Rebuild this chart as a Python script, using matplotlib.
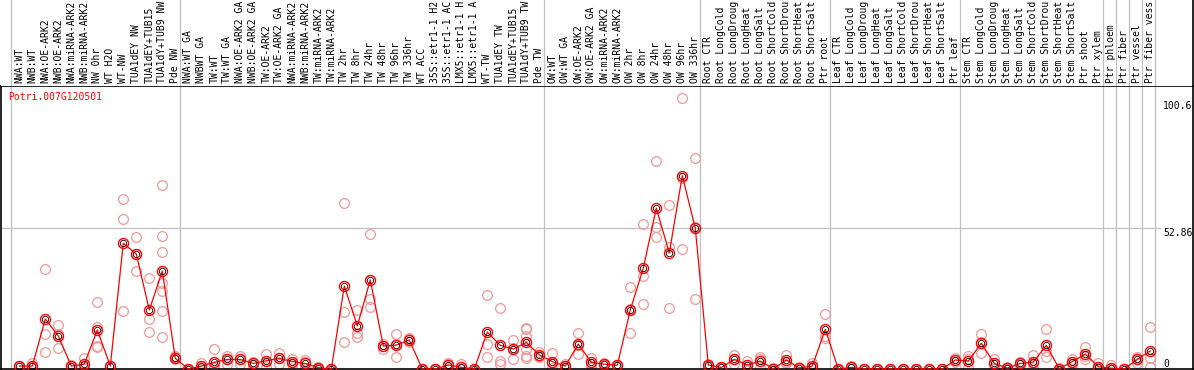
import numpy as np
import matplotlib
matplotlib.use('Agg')
import matplotlib.pyplot as plt
import matplotlib.transforms as mtransforms

gene = 'Potri.007G120501'

samples = [
    'NWA:WT', 'NWB:WT', 'NWA:OE-ARK2', 'NWB:OE-ARK2', 'NWA:miRNA-ARK2', 'NWB:miRNA-ARK2',
    'NW 0hr', 'WT H2O', 'WT-NW', 'TUA1dEY NW', 'TUA1dEY+TUB15 NW', 'TUA1dY+TUB9 NW', 'Pde NW',
    'NWA:WT GA', 'NWBWT GA', 'TW:WT', 'TW:WT GA', 'NWA:OE-ARK2 GA', 'NWB:OE-ARK2 GA',
    'TW:OE-ARK2', 'TW:OE-ARK2 GA', 'NWA:miRNA-ARK2 GA', 'NWB:miRNA-ARK2 GA', 'TW:miRNA-ARK2',
    'TW:miRNA-ARK2 GA', 'TW 2hr', 'TW 8hr', 'TW 24hr', 'TW 48hr', 'TW 96hr', 'TW 336hr',
    'WT ACC', '35S::etr1-1 H2O', '35S::etr1-1 ACC', 'LMX5::etr1-1 H2O', 'LMX5::etr1-1 ACC',
    'WT-TW', 'TUA1dEY TW', 'TUA1dEY+TUB15 TW', 'TUA1dY+TUB9 TW', 'Pde TW',
    'OW:WT', 'OW:WT GA', 'OW:OE-ARK2', 'OW:OE-ARK2 GA', 'OW:miRNA-ARK2', 'OW:miRNA-ARK2 GA',
    'OW 2hr', 'OW 8hr', 'OW 24hr', 'OW 48hr', 'OW 96hr', 'OW 336hr',
    'Root CTR', 'Root LongCold', 'Root LongDrought', 'Root LongHeat', 'Root LongSalt',
    'Root ShortCold', 'Root ShortDrought', 'Root ShortHeat', 'Root ShortSalt', 'Ptr root',
    'Leaf CTR', 'Leaf LongCold', 'Leaf LongDrought', 'Leaf LongHeat', 'Leaf LongSalt',
    'Leaf ShortCold', 'Leaf ShortDrought', 'Leaf ShortHeat', 'Leaf ShortSalt', 'Ptr leaf',
    'Stem CTR', 'Stem LongCold', 'Stem LongDrought', 'Stem LongHeat', 'Stem LongSalt',
    'Stem ShortCold', 'Stem ShortDrought', 'Stem ShortHeat', 'Stem ShortSalt', 'Ptr shoot',
    'Ptr xylem', 'Ptr phloem', 'Ptr fiber', 'Ptr vessel', 'Ptr fiber vessel',
]

means = [
    1.1, 1.1, 18.8, 12.4, 1.1, 1.8, 14.7, 1.1, 47.3, 43.2, 22.2, 36.8, 4.0,
    0, 1.1, 2.5, 3.6, 3.6, 2.1, 3.1, 4.0, 2.8, 2.1, 0.5, 0, 31.2, 16.2, 33.5,
    8.6, 9.0, 10.9, 0, 0, 1.5, 0.6, 0, 13.9, 8.9, 7.5, 10.0, 5.3,
    2.8, 1.1, 9.4, 2.5, 1.8, 1.4, 22.2, 37.9, 60.5, 43.6, 72.7, 52.9,
    1.5, 0.6, 3.6, 1.5, 3.0, 0.1, 3.4, 0.4, 1.1, 14.9,
    0, 0.6, 0, 0, 0, 0, 0, 0, 0, 3.4,
    3.0, 9.7, 2.1, 0.3, 2.1, 2.6, 8.9, 0.1, 2.8, 5.6, 0.9,
    0.3, 0, 3.6, 6.8,
]

reps = [
    [1.1, 1.1, 1.1], [2.1, 0.6, 0.6], [37.6, 13.0, 6.3], [16.4, 13.0, 7.8],
    [1.5, 1.1, 0.4], [4.2, 0.9, 0.3], [25.2, 15.9, 8.8, 8.4], [1.1, 1.1, 1.1],
    [63.9, 56.4, 21.8], [49.5, 43.4, 36.7], [34.1, 18.7, 13.9],
    [69.2, 50.0, 43.9, 32.2, 29.2, 21.8, 12.1], [4.9, 4.5, 3.8],
    [0, 0, 0], [2.1, 1.1, 0.1], [7.4, 0.8, 0.2], [5.0, 3.9, 1.9], [5.0, 3.8, 2.0],
    [2.8, 2.1, 1.4], [5.6, 3.1, 0.6], [6.1, 4.0, 2.0], [3.6, 2.8, 2.0],
    [2.6, 3.4, 0.3], [0.9, 0.5, 0.1], [0, 0, 0], [62.3, 21.4, 10.2],
    [22.2, 13.4, 12.1], [50.8, 26.3, 23.2], [9.5, 8.6, 7.6], [13.0, 9.5, 4.5],
    [11.5, 11.2, 10.0], [0, 0, 0], [0, 0, 0], [2.1, 2.0, 0.4], [1.8, 0, 0],
    [0, 0, 0], [27.7, 9.3, 4.5], [22.9, 3.0, 1.9], [10.9, 7.8, 3.9],
    [15.3, 15.0, 12.5, 7.5, 4.9, 4.0], [6.5, 5.0, 4.5],
    [5.9, 2.1, 0.4], [1.8, 1.1, 0.4], [13.4, 9.2, 5.5], [4.0, 2.0, 1.3],
    [2.2, 1.8, 1.4], [1.6, 1.4, 1.2], [30.7, 22.5, 13.4], [54.5, 35.1, 24.4],
    [78.2, 53.4, 49.5], [61.5, 46.0, 22.8], [101.8, 71.9, 45.1], [79.2, 53.3, 26.2],
    [1.8, 1.5, 1.2], [0.9, 0.6, 0.3], [5.3, 3.6, 1.9], [3.0, 1.5, 0],
    [4.6, 3.9, 0.4], [0.2, 0.1, 0], [5.3, 2.5, 2.4], [0.6, 0.4, 0.2],
    [2.1, 0.9, 0.3], [20.6, 12.4, 11.7],
    [0, 0, 0], [1.2, 0.6, 0], [0, 0, 0], [0, 0, 0], [0, 0, 0], [0, 0, 0],
    [0, 0, 0], [0, 0, 0], [0, 0, 0], [4.3, 3.4, 2.5],
    [3.6, 5.0, 0.4], [13.2, 10.0, 5.9], [3.8, 2.1, 0.4], [0.6, 0.3, 0],
    [2.8, 2.1, 1.6], [5.3, 2.1, 0.4], [14.9, 6.8, 4.4], [0.2, 0.1, 0],
    [3.8, 2.8, 1.8], [8.4, 4.9, 3.6], [2.1, 0.6, 0],
    [1.4, 0, 0], [0, 0, 0], [4.6, 3.6, 2.4], [15.7, 4.3, 0.6],
]

# last sample of each block, separators are drawn just after these
group_ends = [-1, 12, 40, 52, 62, 72, 83, 84, 85, 86, 87]
yticks = [0, 52.86, 100.6]

W, H = 1194, 370
mono = 'DejaVu Sans Mono'
fs = 7.0
grey = '#c0c0c0'
red = '#ff0000'
pink = '#f09898'
maxchars = 14  # label strip only has room for this many characters

fig = plt.figure(figsize=(W / 100, H / 100), dpi=100)
fig.patch.set_facecolor('white')

ax = fig.add_axes([1 / W, 1 / H, 1192 / W, 283 / H])
lab = fig.add_axes([1 / W, 284 / H, 1192 / W, 86 / H], sharex=ax)

x = np.arange(len(samples))
ax.set_xlim((1 - 19.3) / 13, (1193 - 19.3) / 13)
ax.set_ylim(0, 283 / 2.66)
lab.set_ylim(0, 86)

for g in group_ends:
    ax.axvline(g + 0.36, color=grey, lw=0.9, zorder=0)
    lab.axvline(g + 0.36, color=grey, lw=0.9, zorder=0)

ax.axhline(52.86, xmin=0, xmax=(1160 - 1) / 1192, color=grey, lw=0.9, zorder=0)

# replicates
for i, r in enumerate(reps):
    ax.plot([i] * len(r), r, 'o', ms=7, mfc='none', mec=pink, mew=0.9,
            clip_on=False, zorder=2)

# mean line
ax.plot(x, means, '-', color=red, lw=0.9, zorder=3, clip_on=False)
ax.plot(x, means, 'o', ms=7.2, mfc='none', mec=red, mew=1.0, zorder=4, clip_on=False)
ax.plot(x, means, 'o', ms=4.6, mfc='none', mec='black', mew=0.6, zorder=5, clip_on=False)

for sp in ['left', 'right', 'bottom', 'top']:
    ax.spines[sp].set_color('black')
    ax.spines[sp].set_linewidth(1.2)
ax.set_xticks([])
ax.set_yticks([])

for sp in ['left', 'top', 'bottom']:
    lab.spines[sp].set_visible(False)
lab.spines['right'].set_color('black')
lab.spines['right'].set_linewidth(1.2)
lab.set_yticks([])
lab.tick_params(axis='x', length=0, labelbottom=False)

for i, s in enumerate(samples):
    lab.text(i, 3, s[:maxchars].rstrip(), rotation=90, ha='center', va='bottom',
             fontsize=fs, family=mono, color='black')

fig.text(8 / W, 1 - 97 / H, gene, color=red, fontsize=fs, family=mono,
         ha='left', va='center')

tr = mtransforms.blended_transform_factory(ax.transAxes, ax.transData)
for v in yticks:
    txt = f'{v:g}'
    if v == 0:
        ax.text((1163 - 1) / 1192, v, txt, transform=tr, fontsize=fs, family=mono,
                ha='left', va='bottom')
    else:
        ax.text((1163 - 1) / 1192, v, txt, transform=tr, fontsize=fs, family=mono,
                ha='left', va='top')

fig.savefig('out.png', dpi=100)
